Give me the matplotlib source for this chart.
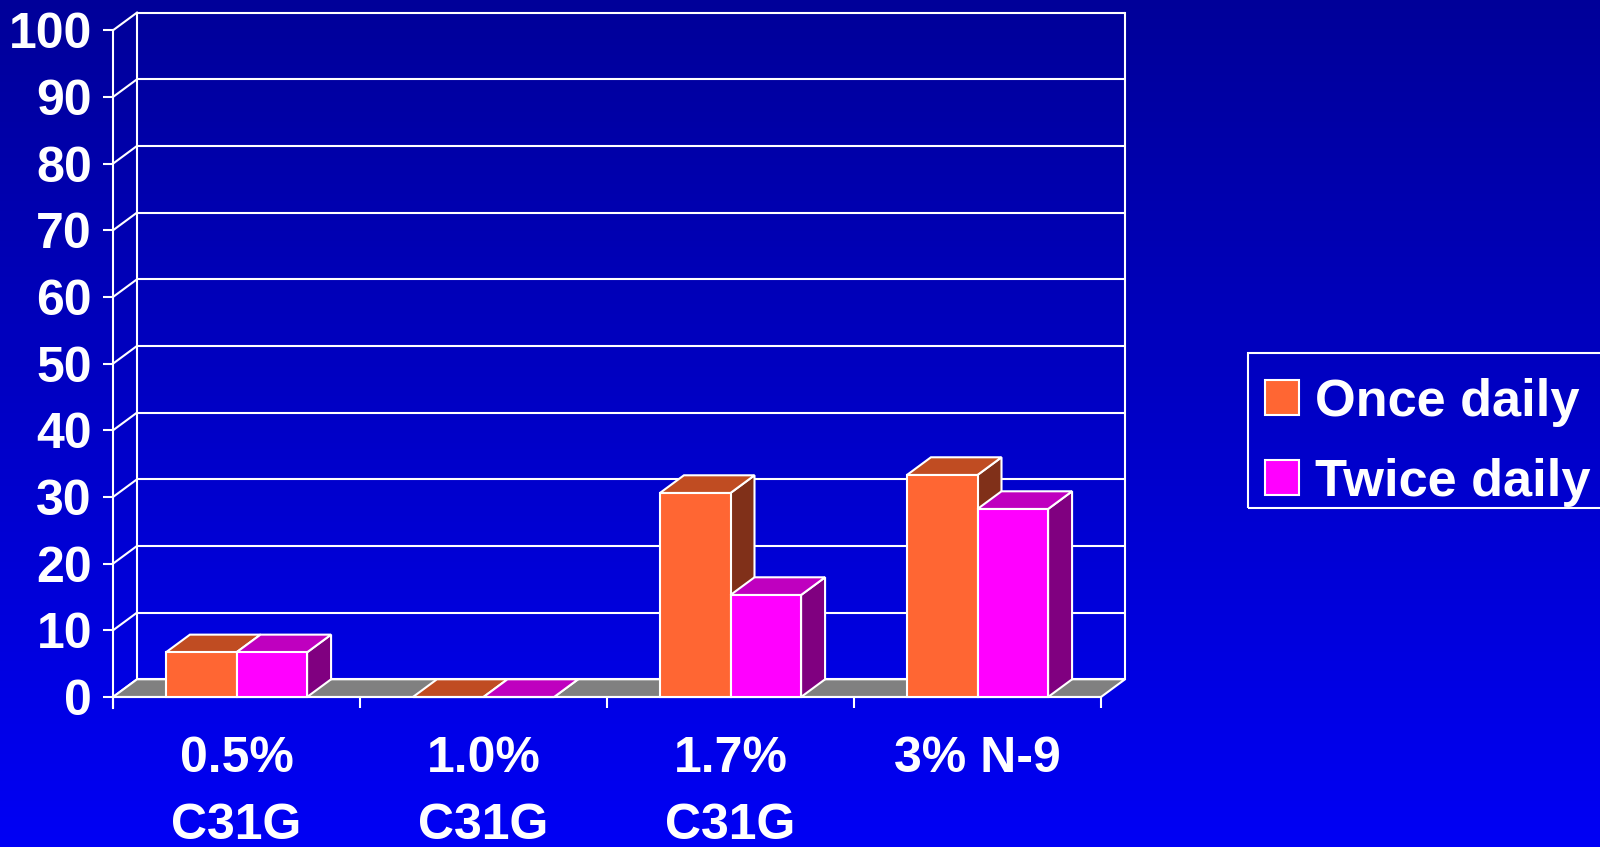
import numpy as np
import matplotlib
matplotlib.use("Agg")
import matplotlib.pyplot as plt
from matplotlib.patches import Polygon, Patch, Rectangle

# ---- data ----
categories = ["0.5%\nC31G", "1.0%\nC31G", "1.7%\nC31G", "3% N-9"]
series_names = ["Once daily", "Twice daily"]
once_daily = [6.7, 0.0, 30.6, 33.3]
twice_daily = [6.7, 0.0, 15.3, 28.2]
y_ticks = list(range(0, 101, 10))

# ---- style ----
plt.rcParams["font.family"] = ["Liberation Sans", "DejaVu Sans"]
plt.rcParams["font.weight"] = "bold"
WHITE = "white"
LW = 1.5
FONT_SIZE = 36
LEGEND_SIZE = 37.7
front_colors = ["#FF6633", "#FF00FF"]
top_colors = ["#C04C22", "#BF00BF"]
side_colors = ["#803019", "#800080"]
floor_color = "#808080"

W, H = 1600, 847
fig = plt.figure(figsize=(W / 100, H / 100), dpi=100)

# vertical blue gradient behind everything
bg = fig.add_axes([0, 0, 1, 1], zorder=-10)
t = np.linspace(0, 1, 256)[:, None, None]
c_top = np.array([0, 0, 0x99]) / 255
c_bot = np.array([0, 0, 0xF5]) / 255
bg.imshow(c_top + (c_bot - c_top) * t, aspect="auto", extent=[0, 1, 0, 1],
          origin="upper")
bg.set_axis_off()

# ---- plot area: category axis x, value axis y ----
px_per_cat = 247.0
px_per_unit = 6.667
x_front_left = 113.0
y_zero = 697.0
xlim = (-0.6, 3.75)
ylim = (-3.0, 103.0)
left_px = x_front_left + (xlim[0] + 0.5) * px_per_cat
right_px = x_front_left + (xlim[1] + 0.5) * px_per_cat
top_px = y_zero - ylim[1] * px_per_unit
bottom_px = y_zero - ylim[0] * px_per_unit
ax = fig.add_axes([left_px / W, 1 - bottom_px / H,
                   (right_px - left_px) / W, (bottom_px - top_px) / H])
ax.set_xlim(xlim)
ax.set_ylim(ylim)
ax.patch.set_alpha(0)

# depth offset of the 3-D box (in data units)
DX = 24.0 / px_per_cat
DY = 17.7 / px_per_unit
x_min, x_max = -0.5, 3.5
y_max = 100


def proj(x, y, d):
    return (x + d * DX, y + d * DY)


# back wall gridlines and side-wall diagonals
for v in y_ticks:
    bx0, by = proj(x_min, v, 1)
    bx1, _ = proj(x_max, v, 1)
    ax.plot([bx0, bx1], [by, by], color=WHITE, lw=LW, zorder=1,
            solid_capstyle="butt")
    fx, fy = proj(x_min, v, 0)
    ax.plot([fx, bx0], [fy, by], color=WHITE, lw=LW, zorder=1)
for xe in (x_min, x_max):
    x0, y0 = proj(xe, 0, 1)
    x1, y1 = proj(xe, y_max, 1)
    ax.plot([x0, x1], [y0, y1], color=WHITE, lw=LW, zorder=1)

# floor
floor = Polygon([proj(x_min, 0, 0), proj(x_max, 0, 0),
                 proj(x_max, 0, 1), proj(x_min, 0, 1)],
                closed=True, facecolor=floor_color, edgecolor=WHITE,
                lw=LW, zorder=2)
ax.add_patch(floor)

# 3-D columns
bar_w = 1 / 3.5
xs = np.arange(len(categories))
for s, vals in enumerate([once_daily, twice_daily]):
    z = 3 + s
    lefts = xs - bar_w + s * bar_w
    for x0, v in zip(lefts, vals):
        x1 = x0 + bar_w
        side = Polygon([proj(x1, 0, 0), proj(x1, v, 0),
                        proj(x1, v, 1), proj(x1, 0, 1)],
                       closed=True, facecolor=side_colors[s],
                       edgecolor=WHITE, lw=LW, zorder=z)
        top = Polygon([proj(x0, v, 0), proj(x1, v, 0),
                       proj(x1, v, 1), proj(x0, v, 1)],
                      closed=True, facecolor=top_colors[s],
                      edgecolor=WHITE, lw=LW, zorder=z)
        ax.add_patch(side)
        ax.add_patch(top)
    ax.bar(lefts, vals, width=bar_w, align="edge", color=front_colors[s],
           edgecolor=WHITE, linewidth=LW, zorder=z)

# ---- axes lines, ticks, labels ----
for name in ("top", "right"):
    ax.spines[name].set_visible(False)
ax.spines["left"].set_position(("data", x_min))
ax.spines["left"].set_bounds(-11 / px_per_unit, y_max)
ax.spines["bottom"].set_position(("data", 0))
ax.spines["bottom"].set_bounds(x_min, x_max)
for name in ("left", "bottom"):
    ax.spines[name].set_color(WHITE)
    ax.spines[name].set_linewidth(LW)
    ax.spines[name].set_zorder(2.5)

ax.set_yticks(y_ticks)
ax.set_yticklabels([str(v) for v in y_ticks])
ax.tick_params(axis="y", direction="out", length=7.2, width=LW,
               color=WHITE, pad=8, labelsize=FONT_SIZE, labelcolor=WHITE)

ax.set_xticks(np.arange(x_min, x_max + 0.01, 1.0))
ax.set_xticklabels([])
ax.set_xticks(xs, minor=True)
ax.set_xticklabels(categories, minor=True, fontsize=FONT_SIZE,
                   color=WHITE, linespacing=1.6)
ax.tick_params(axis="x", which="major", direction="out", length=8,
               width=LW, color=WHITE)
ax.tick_params(axis="x", which="minor", length=0, pad=28)

# ---- legend ----
handles = [Patch(facecolor=c, edgecolor=WHITE, linewidth=LW)
           for c in front_colors]
leg = fig.legend(handles, series_names, loc="upper left",
                 bbox_to_anchor=(1245 / W, 1 - 358 / H), borderaxespad=0,
                 fontsize=LEGEND_SIZE, labelcolor=WHITE, frameon=False,
                 handlelength=0.65, handleheight=0.65, handletextpad=0.30,
                 borderpad=0.38, labelspacing=0.60)
# legend border box
fig.add_artist(Rectangle((1248 / W, 1 - 508 / H), (1612 - 1248) / W,
                         (508 - 353) / H, transform=fig.transFigure,
                         facecolor="none", edgecolor=WHITE, lw=LW))

fig.savefig("out.png", dpi=100)
